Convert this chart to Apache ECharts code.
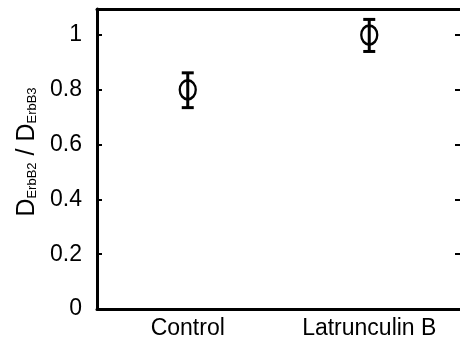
<!DOCTYPE html>
<html>
<head>
<meta charset="utf-8">
<script src="https://cdn.jsdelivr.net/npm/echarts@6/dist/echarts.min.js"></script>
<style>
  html, body { margin: 0; padding: 0; background: #fff; }
  #chart { width: 460px; height: 343px; }
</style>
</head>
<body>
<div id="chart"></div>
<script>
const categories = ['Control', 'Latrunculin B']
const ratio = [0.8, 1.0]
const errLow = [0.735, 0.94]
const errHigh = [0.862, 1.057]

const FONT = '"Liberation Sans", Arial, sans-serif'

const chart = echarts.init(document.getElementById('chart'))

const errData = categories.map((c, i) => [i, errLow[i], errHigh[i]])

const option = {
  animation: false,
  backgroundColor: '#fff',
  grid: { left: 97, top: 9, right: -1, bottom: 34 },
  xAxis: [
    {
      type: 'category',
      data: categories,
      position: 'bottom',
      axisLine: { lineStyle: { color: '#000', width: 3 } },
      axisTick: { inside: true, length: 5, alignWithLabel: true, lineStyle: { color: '#000', width: 2 } },
      axisLabel: { color: '#000', fontSize: 23, fontFamily: FONT, margin: 8 }
    },
    {
      type: 'category',
      data: categories,
      position: 'top',
      axisLine: { onZero: false, lineStyle: { color: '#000', width: 3 } },
      axisTick: { inside: true, length: 5, alignWithLabel: true, lineStyle: { color: '#000', width: 2 } },
      axisLabel: { show: false }
    }
  ],
  yAxis: [
    {
      type: 'value',
      min: 0,
      max: 1.095,
      interval: 0.2,
      splitLine: { show: false },
      axisLine: { show: true, onZero: false, lineStyle: { color: '#000', width: 3 } },
      axisTick: { show: true, inside: true, length: 5, lineStyle: { color: '#000', width: 2 } },
      axisLabel: {
        color: '#000', fontSize: 23, fontFamily: FONT, margin: 15,
        showMaxLabel: false,
        formatter: v => (Math.abs(v * 5 - Math.round(v * 5)) < 1e-6 ? String(+v.toFixed(1)) : '')
      },
      name: '{d|D}{s|ErbB2}{d| / D}{s|ErbB3}',
      nameLocation: 'middle',
      nameGap: 55,
      nameTextStyle: {
        fontFamily: FONT,
        color: '#000',
        padding: [0, 0, 0, 14],
        rich: {
          d: { fontSize: 25, fontFamily: FONT, color: '#000', verticalAlign: 'bottom', lineHeight: 30 },
          s: { fontSize: 13, fontFamily: FONT, color: '#000', verticalAlign: 'bottom', lineHeight: 30, padding: [16, 0, 0, 0] }
        }
      }
    },
    {
      // right edge: only ticks, the frame line falls outside the picture
      type: 'value',
      min: 0,
      max: 1.095,
      interval: 0.2,
      position: 'right',
      splitLine: { show: false },
      axisLine: { show: false, onZero: false },
      axisTick: { show: true, inside: true, length: 5, lineStyle: { color: '#000', width: 2 } },
      axisLabel: { show: false }
    }
  ],
  series: [
    {
      type: 'custom',
      name: 'error',
      data: errData,
      z: 2,
      renderItem: (params, api) => {
        const i = api.value(0)
        const lo = api.coord([i, api.value(1)])
        const hi = api.coord([i, api.value(2)])
        const half = 6
        const style = { stroke: '#000', lineWidth: 3 }
        return {
          type: 'group',
          children: [
            { type: 'line', shape: { x1: hi[0], y1: hi[1], x2: lo[0], y2: lo[1] }, style },
            { type: 'line', shape: { x1: hi[0] - half, y1: hi[1], x2: hi[0] + half, y2: hi[1] }, style },
            { type: 'line', shape: { x1: lo[0] - half, y1: lo[1], x2: lo[0] + half, y2: lo[1] }, style }
          ]
        }
      }
    },
    {
      type: 'scatter',
      name: 'ratio',
      data: ratio,
      z: 3,
      symbol: 'circle',
      symbolSize: [16, 19],
      itemStyle: { color: 'rgba(0,0,0,0)', borderColor: '#000', borderWidth: 2.5, opacity: 1 }
    }
  ]
}

chart.setOption(option)
</script>
</body>
</html>
